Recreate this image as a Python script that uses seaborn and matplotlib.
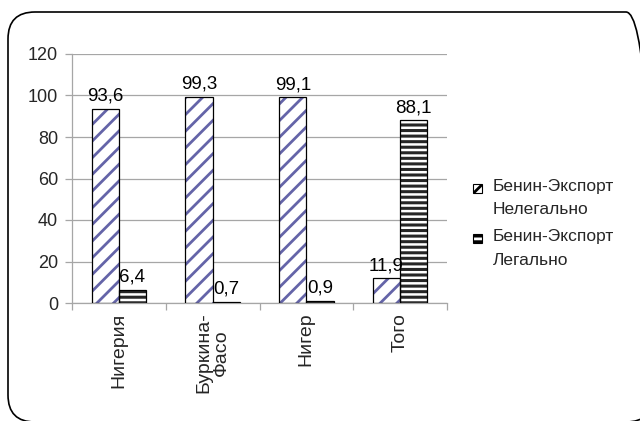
import matplotlib
matplotlib.use("Agg")
import matplotlib.pyplot as plt
import seaborn as sns
import pandas as pd
from matplotlib.patches import FancyBboxPatch, Patch, Rectangle
from matplotlib.legend_handler import HandlerPatch

countries = ["Нигерия", "Буркина-\nФасо", "Нигер", "Того"]
illegal = [93.6, 99.3, 99.1, 11.9]
legal = [6.4, 0.7, 0.9, 88.1]
series = ["Бенин-Экспорт\nНелегально", "Бенин-Экспорт\nЛегально"]
yticks = [0, 20, 40, 60, 80, 100, 120]

sns.set_theme(style="white")
plt.rcParams['font.family'] = ['Liberation Sans', 'DejaVu Sans']
plt.rcParams['hatch.linewidth'] = 2.0

HATCH_BLUE = "#6464a8"
STRIPE = "#262626"
GRID = "#a6a6a6"

df = pd.DataFrame({
    "country": countries * 2,
    "value": illegal + legal,
    "series": [series[0]] * len(countries) + [series[1]] * len(countries),
})

fig = plt.figure(figsize=(6.4, 4.21), dpi=100)
ax = fig.add_axes([72 / 640, 1 - 303 / 421, 375 / 640, 249 / 421])

hatches = ["//", "---"]
hcolors = [HATCH_BLUE, STRIPE]
hlw = [2.0, 2.2]

# hatched fill layer
sns.barplot(data=df, x="country", y="value", hue="series", order=countries,
            hue_order=series, palette=["white", "white"], width=0.58,
            edgecolor=HATCH_BLUE, linewidth=0, legend=False, ax=ax, zorder=2)
for i, cont in enumerate(ax.containers):
    for p in cont:
        p.set_hatch(hatches[i])
        p.set_edgecolor(hcolors[i])
        p.set_linewidth(0)
        if hasattr(p, "set_hatch_linewidth"):
            p.set_hatch_linewidth(hlw[i])
fill_containers = list(ax.containers)

# outline layer
sns.barplot(data=df, x="country", y="value", hue="series", order=countries,
            hue_order=series, fill=False, width=0.58,
            palette=["black", "black"], linewidth=0.9, legend=False, ax=ax, zorder=3)

for cont in fill_containers:
    vals = [p.get_height() for p in cont]
    ax.bar_label(cont, labels=[f"{v:.1f}".replace(".", ",") for v in vals],
                 padding=3, fontsize=13.5, color="black", zorder=5)

ax.set_ylim(0, 120)
ax.set_yticks(yticks)
ax.set_yticklabels([str(t) for t in yticks], fontsize=13)
ax.set_xlim(-0.5, len(countries) - 0.5)
ax.set_xticks(range(len(countries)))
ax.set_xticklabels(countries, rotation=90, fontsize=14, linespacing=1.0)
ax.set_xticks([i - 0.5 for i in range(len(countries) + 1)], minor=True)
ax.tick_params(axis="x", which="major", length=0, pad=7)
ax.tick_params(axis="x", which="minor", length=5, color=GRID, width=0.9, bottom=True)
ax.tick_params(axis="y", length=5, color=GRID, width=0.9, left=True, pad=5)
ax.set_xlabel("")
ax.set_ylabel("")
ax.yaxis.grid(True, color=GRID, linewidth=0.9)
ax.set_axisbelow(True)
for s in ["top", "right"]:
    ax.spines[s].set_visible(False)
for s in ["left", "bottom"]:
    ax.spines[s].set_color(GRID)
    ax.spines[s].set_linewidth(0.9)


def top_square(legend, orig_handle, xdescent, ydescent, width, height, fontsize):
    sq = width
    return Rectangle((-xdescent, -ydescent + height - sq - 0.12 * fontsize), sq, sq)


handles = [
    Patch(facecolor="white", edgecolor=HATCH_BLUE, hatch="///", linewidth=0),
    Patch(facecolor="white", edgecolor=STRIPE, hatch="---", linewidth=0),
]
leg = fig.legend(handles, series, loc="upper left",
                 bbox_to_anchor=(473 / 640, 1 - 179 / 421), frameon=False,
                 handlelength=0.5, handleheight=2.6, handletextpad=0.62,
                 borderpad=0, borderaxespad=0, labelspacing=0.68, fontsize=12.5,
                 handler_map={Patch: HandlerPatch(patch_func=top_square)})
for t in leg.get_texts():
    t.set_linespacing(1.7)
for h in leg.legend_handles:
    h.set_edgecolor("black")
    h.set_linewidth(0.8)

frame = FancyBboxPatch((0.08, -0.01), 6.45, 4.10,
                       boxstyle="round,pad=0,rounding_size=0.27",
                       transform=fig.dpi_scale_trans, fill=False,
                       edgecolor="black", linewidth=1.2, clip_on=False)
fig.patches.append(frame)

fig.savefig("out.png", dpi=100)
